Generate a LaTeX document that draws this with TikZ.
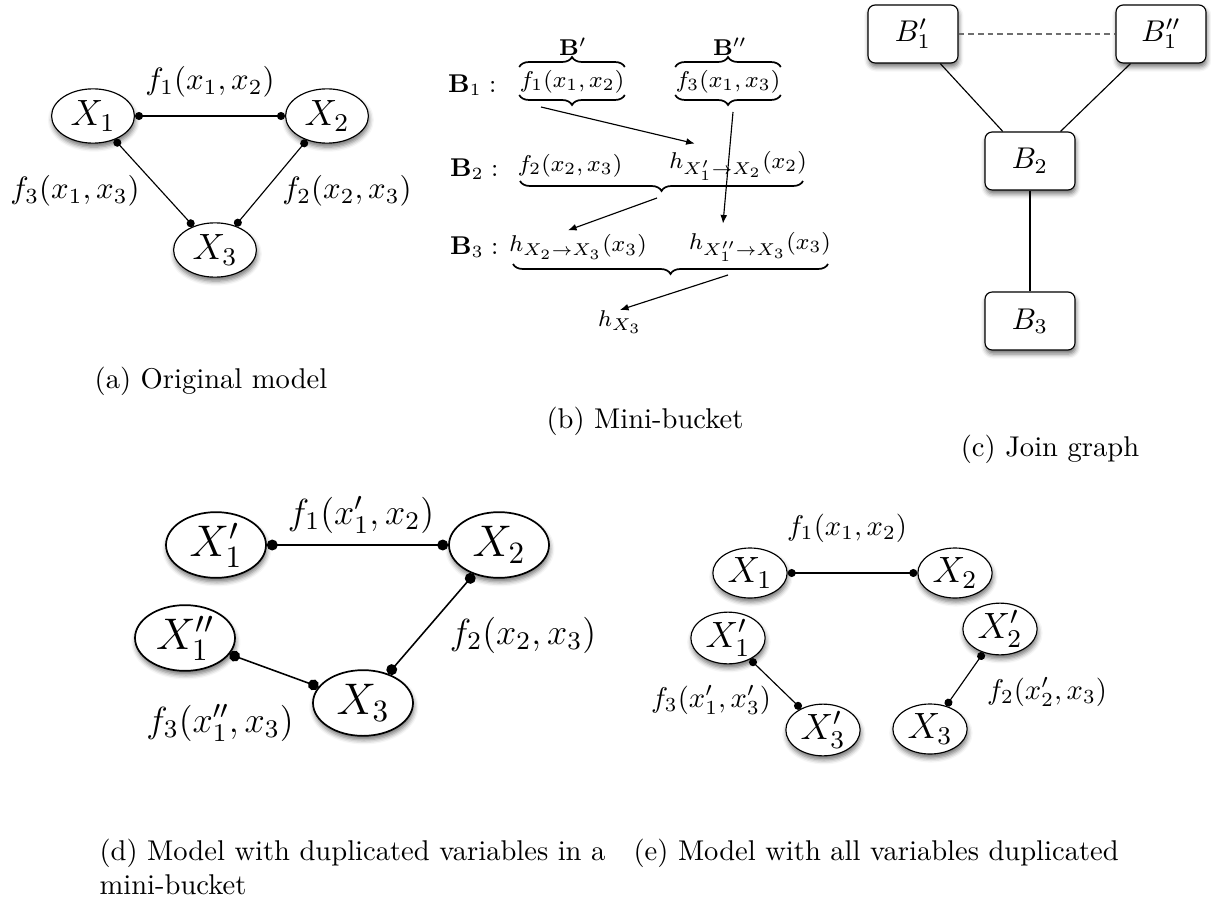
\RequirePackage{fix-cm}
\documentclass[tikz,border=0pt]{standalone}
\usepackage{amsmath,amssymb}
\usetikzlibrary{arrows.meta, shapes.geometric, shadows.blur, calc, decorations.pathreplacing}
\definecolor{dashgray}{HTML}{6E6E6E}

\begin{document}
\begin{tikzpicture}[x=0.35pt, y=-0.35pt, line width=0.4pt,
  var/.style={ellipse, draw, fill=white, inner sep=0pt,
    blur shadow={shadow xshift=0.3pt, shadow yshift=-1.4pt, shadow blur radius=1.6pt, shadow opacity=55}},
  vara/.style={var, minimum width=29pt, minimum height=19pt, font=\fontsize{12.8}{15}\selectfont},
  vard/.style={var, line width=0.6pt, minimum width=35pt, minimum height=23pt, font=\fontsize{15.5}{18}\selectfont},
  vare/.style={var, minimum width=26pt, minimum height=17.5pt, font=\fontsize{12.8}{15}\selectfont},
  bucket/.style={rectangle, draw, fill=white, rounded corners=2.5pt, minimum width=31.5pt, minimum height=20.3pt,
    font=\fontsize{10.5}{12}\selectfont,
    blur shadow={shadow xshift=0.3pt, shadow yshift=-1.4pt, shadow blur radius=1.6pt, shadow opacity=55}},
  factor/.style={{Circle[length=2.8pt]}-{Circle[length=2.8pt]}},
  factord/.style={line width=0.55pt, {Circle[length=3.8pt]}-{Circle[length=3.8pt]}},
  bk/.style={inner sep=0pt, font=\footnotesize},
  brc/.style={decorate, decoration={brace, amplitude=3.5pt}, line width=0.6pt},
  msg/.style={-{Latex[length=3pt, width=2.4pt]}},
  subcap/.style={inner sep=0pt, font=\normalsize}]

\useasboundingbox (0,0) rectangle (1211,905);

% (a) original model
\node[vara] (a1) at (93,116) {$X_1$};
\node[vara] (a2) at (327,116) {$X_2$};
\node[vara] (a3) at (215,250) {$X_3$};
\draw[factor] (a1) -- (a2);
\draw[factor] (a1) -- (a3);
\draw[factor] (a2) -- (a3);
\node[font=\fontsize{10.8}{13}\selectfont] (fa1) at (210,82) {$f_1(x_1,x_2)$};
\node[font=\fontsize{10.8}{13}\selectfont] (fa3) at (75,191) {$f_3(x_1,x_3)$};
\node[font=\fontsize{10.8}{13}\selectfont] (fa2) at (347,191) {$f_2(x_2,x_3)$};
\node[subcap] (capa) at (211,381) {(a) Original model};

% (b) mini-bucket
\node[bk, anchor=east, font=\small] (b1) at (497,85) {$\mathbf{B}_1:$};
\node[bk] (f1b) at (572,82) {$f_1(x_1,x_2)$};
\node[bk] (f3b) at (728,82) {$f_3(x_1,x_3)$};
\draw[brc] ($(f1b.north west)+(0,-3)$) -- ($(f1b.north east)+(0,-3)$);
\draw[brc] ($(f3b.north west)+(0,-3)$) -- ($(f3b.north east)+(0,-3)$);
\node[bk] (bp) at (573,47) {$\mathbf{B}'$};
\node[bk] (bpp) at (730,47) {$\mathbf{B}''$};
\draw[brc] ($(f1b.south east)+(0,1)$) -- ($(f1b.south west)+(0,1)$);
\draw[brc] ($(f3b.south east)+(0,1)$) -- ($(f3b.south west)+(0,1)$);
\coordinate (u1) at ($(f1b.south)+(0,12)$);
\coordinate (u3) at ($(f3b.south)+(0,12)$);

\node[bk, anchor=east, font=\small] (b2) at (499,169) {$\mathbf{B}_2:$};
\node[bk] (f2b) at (570,166) {$f_2(x_2,x_3)$};
\node[bk] (hA) at (738,166) {$h_{X_1'\rightarrow X_2}(x_2)$};
\draw[brc] (803,181) -- (520,181);
\coordinate (u2) at (662,194);

\node[bk, anchor=east, font=\small] (b3) at (499,247) {$\mathbf{B}_3:$};
\node[bk] (hB) at (578,247) {$h_{X_2\rightarrow X_3}(x_3)$};
\node[bk] (hC) at (760,247) {$h_{X_1''\rightarrow X_3}(x_3)$};
\draw[brc] (828,264) -- (513,264);
\coordinate (u4) at (672,277);
\node[bk] (hX3) at (620,322) {$h_{X_3}$};

\draw[msg] ($(u1)+(-31,1)$) -- ($(hA.north west)+(26,-7)$);
\draw[msg] ($(u3)+(5,6)$) -- ($(hC.north)+(-37,-8)$);
\draw[msg] ($(u2)+(-5,4)$) -- ($(hB.north)+(-10,-4)$);
\draw[msg] ($(u4)+(56,-2)$) -- (hX3.north);
\node[subcap] (capb) at (645,421) {(b) Mini-bucket};

% (c) join graph
\node[bucket] (c1p) at (913,34) {$B'_1$};
\node[bucket] (c1pp) at (1161,34) {$B''_1$};
\node[bucket] (c2) at (1030,161) {$B_2$};
\node[bucket] (c3) at (1030,321) {$B_3$};
\draw[dashgray, dash pattern=on 2pt off 1.4pt] (c1p) -- (c1pp);
\draw (c1p) -- (c2);
\draw (c1pp) -- (c2);
\draw (c2) -- (c3);
\node[subcap] (capc) at (1050,449) {(c) Join graph};

% (d) duplicated variables in a mini-bucket
\node[vard] (d1p) at (216,545) {$X'_1$};
\node[vard] (d2) at (499,545) {$X_2$};
\node[vard] (d1pp) at (185,638) {$X''_1$};
\node[vard] (d3) at (363,703) {$X_3$};
\draw[factord] (d1p) -- (d2);
\draw[factord] (d2) -- (d3);
\draw[factord] (d1pp) -- (d3);
\node[font=\fontsize{12.7}{15}\selectfont] (fd1) at (361,515) {$f_1(x'_1,x_2)$};
\node[font=\fontsize{12.7}{15}\selectfont] (fd2) at (523,635) {$f_2(x_2,x_3)$};
\node[font=\fontsize{12.7}{15}\selectfont] (fd3) at (220,723) {$f_3(x''_1,x_3)$};
\node[subcap, anchor=north west, align=left] (capd) at (99,838)
  {(d) Model with duplicated variables in a\\mini-bucket};

% (e) all variables duplicated
\node[vare] (e1) at (750,573) {$X_1$};
\node[vare] (e2) at (955,573) {$X_2$};
\node[vare] (e1p) at (728,638) {$X'_1$};
\node[vare] (e2p) at (1000,629) {$X'_2$};
\node[vare] (e3p) at (823,730) {$X'_3$};
\node[vare] (e3) at (930,729) {$X_3$};
\draw[factor] (e1) -- (e2);
\draw[factor] (e1p) -- (e3p);
\draw[factor] (e2p) -- (e3);
\node[font=\fontsize{10}{12}\selectfont] (fe1) at (847,528) {$f_1(x_1,x_2)$};
\node[font=\fontsize{10}{12}\selectfont] (fe3) at (711,700) {$f_3(x'_1,x'_3)$};
\node[font=\fontsize{10}{12}\selectfont] (fe2) at (1047,692) {$f_2(x'_2,x_3)$};
\node[subcap, anchor=north west] (cape) at (633,838) {(e) Model with all variables duplicated};

\end{tikzpicture}
\end{document}
